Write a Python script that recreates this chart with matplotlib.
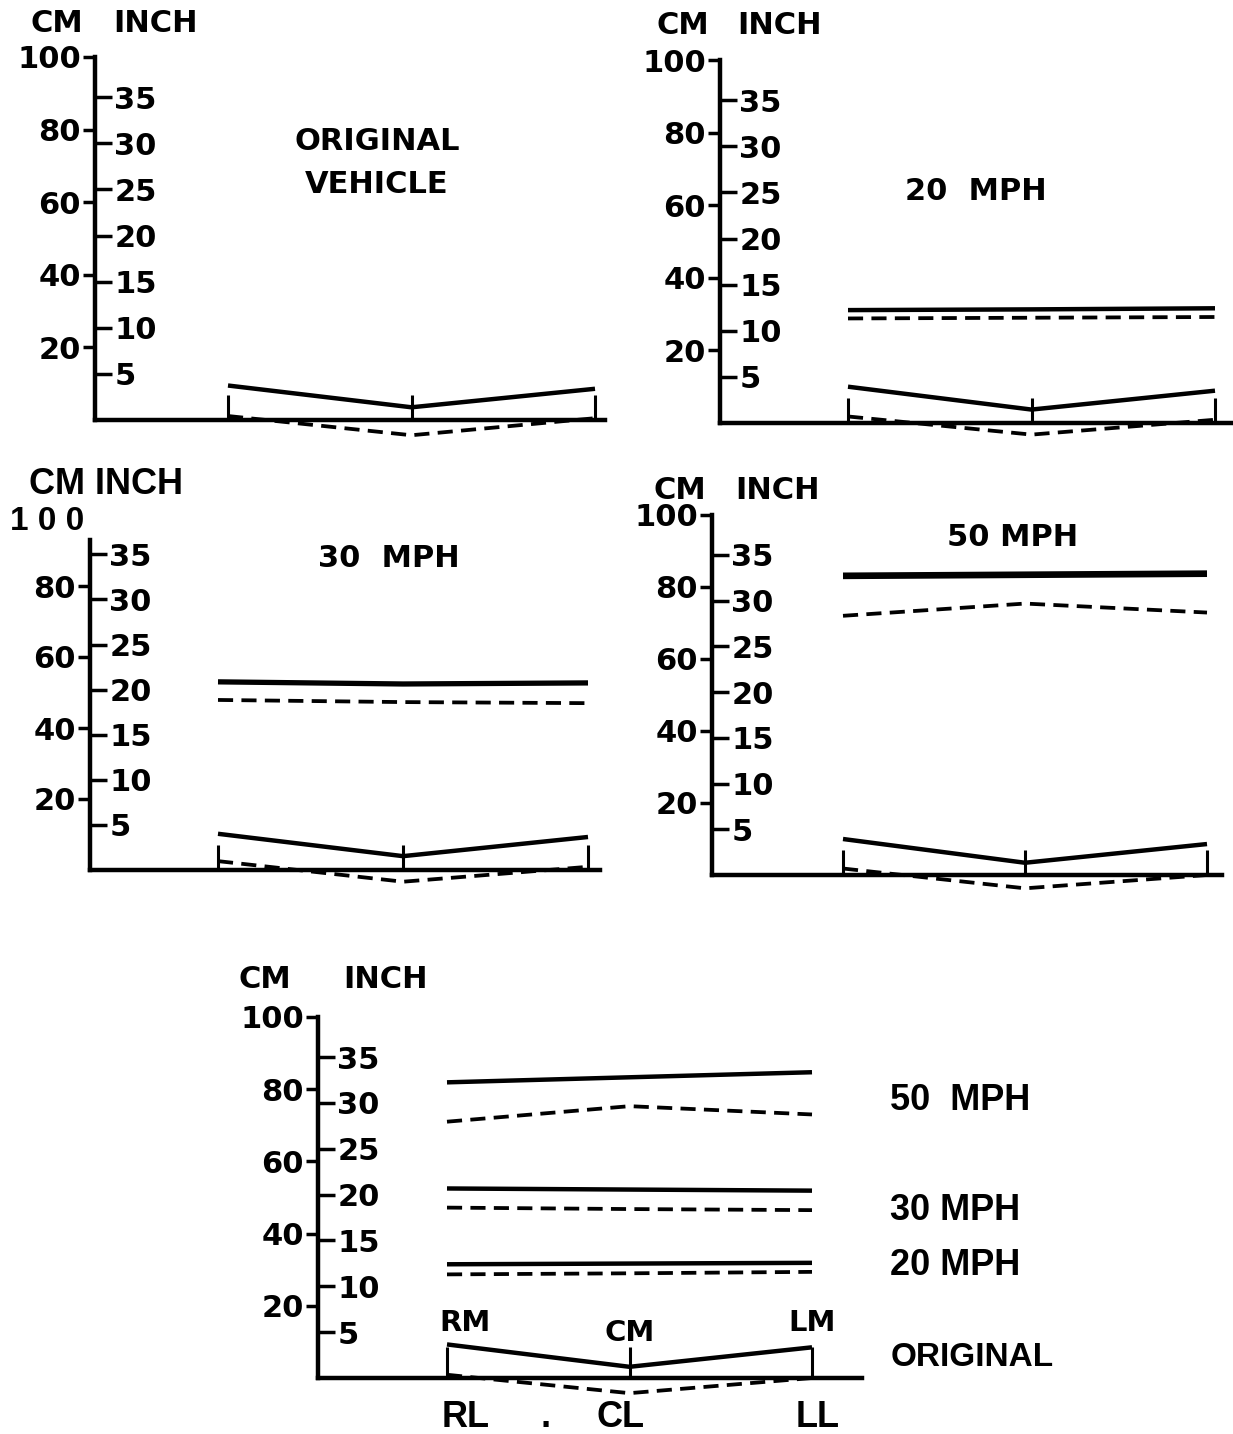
import matplotlib
matplotlib.use("Agg")
import matplotlib.pyplot as plt

W, H = 1233, 1434

# ---------------- data (cm) ----------------
points_top = ["RM", "CM", "LM"]
points_bottom = ["RL", "CL", "LL"]
cm_ticks = [20, 40, 60, 80, 100]
cm_labels = ["20", "40", "60", "80", "100"]
cm_labels_p3 = ["20", "40", "60", "80", ""]
label_100_p3 = "1 0 0"
inch_ticks = [5, 10, 15, 20, 25, 30, 35]

# original vehicle (solid = mid, dashed = lower)
p1_orig_solid = [9.5, 3.5, 8.6]
p1_orig_dash = [1.1, -4.2, 0.5]

# 20 mph
p2_orig_solid = [10.0, 3.7, 8.9]
p2_orig_dash = [1.8, -3.2, 0.9]
p2_solid = [31.1, 31.3, 31.6]
p2_dash = [28.8, 29.0, 29.2]

# 30 mph
p3_orig_solid = [10.2, 3.9, 9.3]
p3_orig_dash = [2.5, -3.3, 0.9]
p3_solid = [53.0, 52.4, 52.7]
p3_dash = [47.9, 47.3, 47.0]

# 50 mph
p4_orig_solid = [10.0, 3.4, 8.6]
p4_orig_dash = [1.8, -3.7, 0.0]
p4_solid = [83.1, 83.4, 83.7]
p4_dash = [72.0, 75.4, 72.9]

# summary
p5_50_solid = [81.9, 83.3, 84.7]
p5_50_dash = [71.0, 75.3, 73.0]
p5_30_solid = [52.5, 52.2, 51.9]
p5_30_dash = [47.2, 46.8, 46.5]
p5_20_solid = [31.5, 31.7, 31.9]
p5_20_dash = [28.7, 29.0, 29.4]
p5_orig_solid = [9.3, 3.1, 8.5]
p5_orig_dash = [0.9, -4.2, 0.0]

# ---------------- drawing ----------------
plt.rcParams["font.family"] = ["DejaVu Sans"]
plt.rcParams["font.weight"] = "bold"

fig = plt.figure(figsize=(W / 100, H / 100), dpi=100)
YMIN = -8
DASH = (4.0, 2.2)
TICK_FS = 22
HEAD_FS = 22


def px(x, y):
    return x / W, 1 - y / H


def add_panel(spine_x, end_x, base_y, scale, cats_x, spine_top=100,
              labels=cm_labels, mark_len=18):
    bottom_px = base_y - YMIN * scale
    top_px = base_y - 100 * scale
    ax = fig.add_axes([spine_x / W, 1 - bottom_px / H,
                       (end_x - spine_x) / W, (bottom_px - top_px) / H])
    u = (cats_x[2] - cats_x[0]) / 2
    ax.set_xlim((spine_x - cats_x[0]) / u, (end_x - cats_x[0]) / u)
    ax.set_ylim(YMIN, 100)
    ax.patch.set_visible(False)
    for s in ["top", "right"]:
        ax.spines[s].set_visible(False)
    ax.spines["left"].set_bounds(0, spine_top)
    ax.spines["left"].set_linewidth(3.2)
    ax.spines["left"].set_capstyle("projecting")
    ax.spines["bottom"].set_position(("data", 0))
    ax.spines["bottom"].set_linewidth(3.2)
    ax.set_xticks(range(len(points_top)))
    ax.set_xticklabels([])
    ax.tick_params(axis="x", direction="in", length=mark_len, width=2.2)
    ax.set_yticks(cm_ticks)
    ax.set_yticklabels(labels)
    ax.tick_params(axis="y", direction="out", length=9, width=2.5, pad=1,
                   labelsize=TICK_FS)
    sec = ax.secondary_yaxis(0.0, functions=(lambda c: c / 2.54,
                                             lambda i: i * 2.54))
    sec.set_alignment("right")
    sec.spines["right"].set_visible(False)
    sec.set_yticks(inch_ticks)
    sec.tick_params(axis="y", direction="out", length=12, width=2.5, pad=2,
                    labelsize=TICK_FS)
    return ax


def line(ax, vals, dashed=False, lw=3.2):
    x = range(len(vals))
    if dashed:
        ax.plot(x, vals, color="black", lw=lw * 0.85, dashes=DASH,
                clip_on=False, solid_capstyle="butt")
    else:
        ax.plot(x, vals, color="black", lw=lw, clip_on=False,
                solid_capstyle="butt")


# Panel 1 : original vehicle
ax1 = add_panel(95, 605, 420, 3.63, [228, 410, 595])
line(ax1, p1_orig_solid)
line(ax1, p1_orig_dash, dashed=True)
fig.text(*px(377, 163), "ORIGINAL\nVEHICLE", ha="center", va="center",
         fontsize=22, linespacing=1.6)
fig.text(*px(57, 23), "CM", ha="center", va="center", fontsize=HEAD_FS)
fig.text(*px(155, 23), "INCH", ha="center", va="center", fontsize=HEAD_FS)

# Panel 2 : 20 mph
ax2 = add_panel(720, 1233, 423, 3.63, [848, 1032, 1215])
line(ax2, p2_solid)
line(ax2, p2_dash, dashed=True)
line(ax2, p2_orig_solid)
line(ax2, p2_orig_dash, dashed=True)
fig.text(*px(976, 192), "20  MPH", ha="center", va="center", fontsize=22)
fig.text(*px(683, 25), "CM", ha="center", va="center", fontsize=HEAD_FS)
fig.text(*px(780, 25), "INCH", ha="center", va="center", fontsize=HEAD_FS)

# Panel 3 : 30 mph
ax3 = add_panel(90, 600, 870, 3.55, [218, 405, 588], spine_top=93,
                labels=cm_labels_p3)
ax3.yaxis.get_major_ticks()[-1].tick1line.set_visible(False)
ax3.annotate(label_100_p3, xy=(0, 100), xycoords=("axes fraction", "data"),
             xytext=(-4, -5), textcoords="offset points", ha="right",
             va="center", fontsize=24, family="Liberation Sans")
line(ax3, p3_solid, lw=3.8)
line(ax3, p3_dash, dashed=True)
line(ax3, p3_orig_solid)
line(ax3, p3_orig_dash, dashed=True)
fig.text(*px(389, 558), "30  MPH", ha="center", va="center", fontsize=22)
fig.text(*px(106, 484), "CM INCH", ha="center", va="center", fontsize=26,
         family="Liberation Sans")

# Panel 4 : 50 mph
ax4 = add_panel(712, 1222, 875, 3.6, [843, 1028, 1207])
line(ax4, p4_solid, lw=4.8)
line(ax4, p4_dash, dashed=True)
line(ax4, p4_orig_solid)
line(ax4, p4_orig_dash, dashed=True)
fig.text(*px(1013, 538), "50 MPH", ha="center", va="center", fontsize=22)
fig.text(*px(680, 490), "CM", ha="center", va="center", fontsize=HEAD_FS)
fig.text(*px(778, 490), "INCH", ha="center", va="center", fontsize=HEAD_FS)

# Panel 5 : summary
ax5 = add_panel(318, 862, 1378, 3.61, [447, 632, 812], mark_len=22)
for vals, dashed in [(p5_50_solid, False), (p5_50_dash, True),
                     (p5_30_solid, False), (p5_30_dash, True),
                     (p5_20_solid, False), (p5_20_dash, True),
                     (p5_orig_solid, False), (p5_orig_dash, True)]:
    line(ax5, vals, dashed=dashed)
fig.text(*px(265, 979), "CM", ha="center", va="center", fontsize=HEAD_FS)
fig.text(*px(385, 979), "INCH", ha="center", va="center", fontsize=HEAD_FS)

top_offsets = [0.1, 0.0, 0.0]
top_heights = [15.2, 12.5, 15.2]
for i, name in enumerate(points_top):
    ax5.text(i + top_offsets[i], top_heights[i], name, ha="center",
             va="center", fontsize=21)
bot_offsets = [0.1, -0.05, 0.03]
for i, name in enumerate(points_bottom):
    ax5.text(i + bot_offsets[i], -11, name, ha="center", va="center",
             fontsize=26, family="Liberation Sans")
ax5.text(0.54, -11, ".", ha="center", va="center", fontsize=26,
         family="Liberation Sans")

for label, y, fs in [("50  MPH", 77, 26), ("30 MPH", 46.5, 26),
                     ("20 MPH", 31.3, 26), ("ORIGINAL", 5.8, 24)]:
    ax5.text(2.43, y, label, ha="left", va="center", fontsize=fs,
             family="Liberation Sans")

fig.savefig("out.png", dpi=100, facecolor="white")
